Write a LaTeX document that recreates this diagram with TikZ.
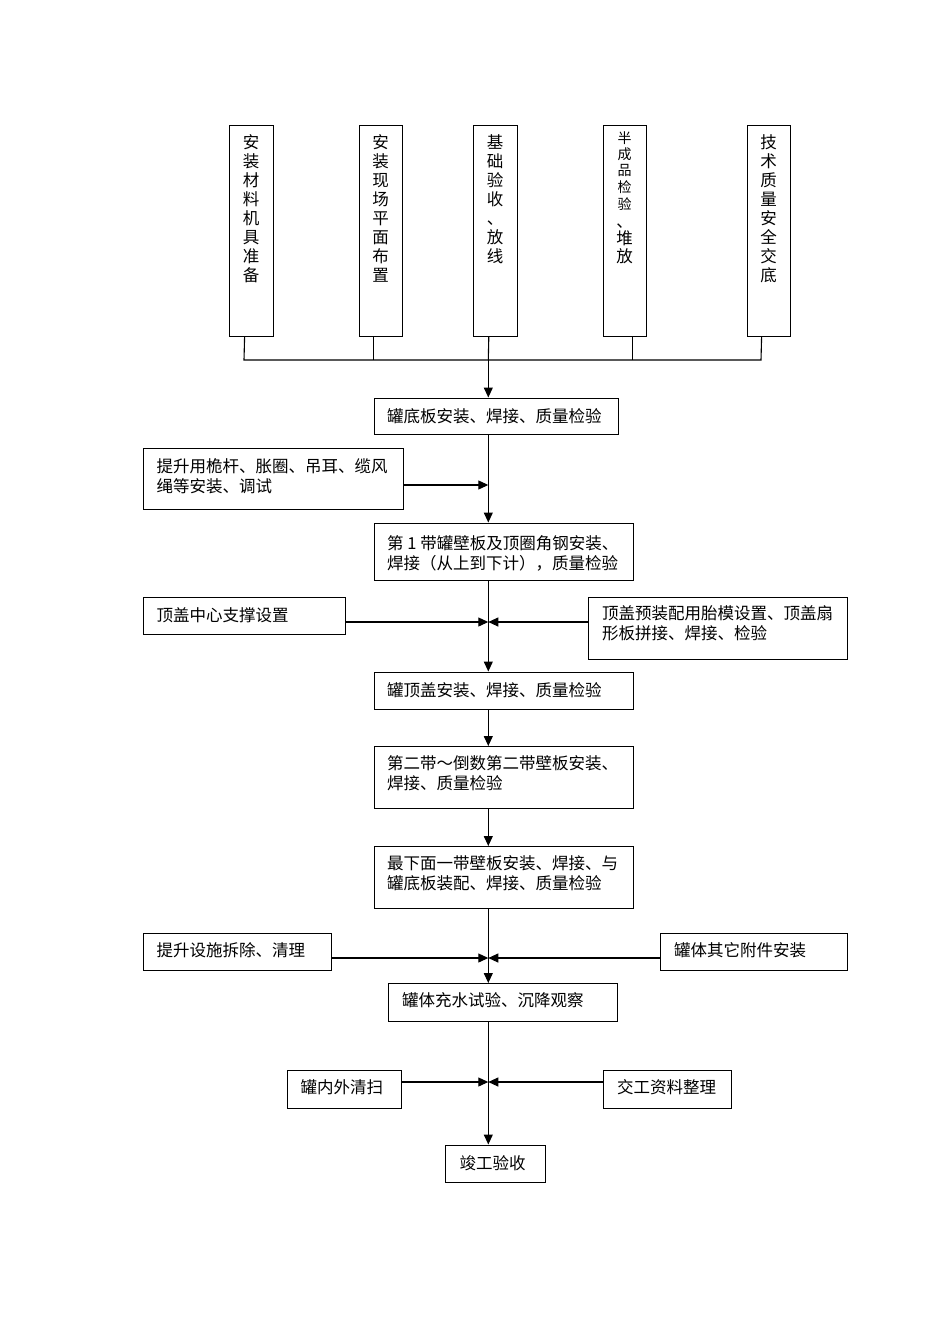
\documentclass[tikz,border=0pt]{standalone}
\usepackage{fontspec}
\setmainfont{Noto Sans CJK SC}
\usetikzlibrary{arrows.meta}
\begin{document}
\begin{tikzpicture}[x=1pt,y=-1pt,
  box/.style={draw, line width=1.1pt, inner sep=0pt, anchor=north west},
  txt/.style={inner sep=0pt, anchor=north west, align=left, font=\fontsize{16.5}{19.5}\selectfont},
  vtxt/.style={inner sep=0pt, anchor=north, align=center, font=\fontsize{16.5}{19}\selectfont},
  small/.style={font=\fontsize{14}{16}\selectfont},
  ln/.style={line width=1.1pt},
  arr/.style={line width=1.1pt, -{Triangle[length=10pt,width=9pt]}}]
\useasboundingbox (0,0) rectangle (950,1344);

% top vertical boxes
\node[box, minimum width=43.5pt, minimum height=211pt] (b1) at (229.3,124.5) {};
\node[box, minimum width=43.5pt, minimum height=211pt] (b2) at (358.7,124.5) {};
\node[box, minimum width=43.5pt, minimum height=211pt] (b3) at (473.3,124.5) {};
\node[box, minimum width=43.5pt, minimum height=211pt] (b4) at (602.7,124.5) {};
\node[box, minimum width=43.5pt, minimum height=211pt] (b5) at (746.7,124.5) {};

\node[vtxt] (t1) at (251,134.5) {安\\装\\材\\料\\机\\具\\准\\备};
\node[vtxt] (t2) at (380.5,134.5) {安\\装\\现\\场\\平\\面\\布\\置};
\node[vtxt] (t3) at (495,134.5) {基\\础\\验\\收\\、\\放\\线};
\node[vtxt] (t4) at (624.5,131.5) {{\fontsize{14}{16}\selectfont 半}\\[-3pt]{\fontsize{14}{16}\selectfont 成}\\[-3pt]{\fontsize{14}{16}\selectfont 品}\\[-2pt]{\fontsize{14}{16}\selectfont 检}\\[-2pt]{\fontsize{14}{16}\selectfont 验}\\[-1pt]、\\[-2pt]堆\\[-1pt]放};
\node[vtxt] (t5) at (768.5,134.5) {技\\术\\质\\量\\安\\全\\交\\底};

% bus
\coordinate (bus) at (488.3,360);
\coordinate (busL) at (244,360);
\coordinate (busR) at (761,360);
\draw[ln] ([xshift=-7pt]b1.south) -- (busL) -- (busR) -- ([xshift=-7.4pt]b5.south);
\draw[ln] ([xshift=-7.2pt]b2.south) -- ([xshift=-7.2pt]b2.south |- bus);
\draw[ln] ([xshift=-6.8pt]b3.south) -- (bus);
\draw[ln] ([xshift=7.2pt]b4.south) -- ([xshift=7.2pt]b4.south |- bus);

% main column boxes
\node[box, minimum width=244pt, minimum height=36.5pt] (A) at (373.5,397.5) {};
\node[txt] (At) at (387,408.5) {罐底板安装、焊接、质量检验};

\node[box, minimum width=260pt, minimum height=61.5pt] (B) at (143,447.5) {};
\node[txt] (Bt) at (156.5,458.5) {提升用桅杆、胀圈、吊耳、缆风\\绳等安装、调试};

\node[box, minimum width=259pt, minimum height=57.5pt] (C) at (373.5,522.5) {};
\node[txt] (Ct) at (387,535.5) {第 1 带罐壁板及顶圈角钢安装、\\焊接（从上到下计），质量检验};

\node[box, minimum width=202pt, minimum height=36.5pt] (D) at (143,597) {};
\node[txt] (Dt) at (156.5,607.5) {顶盖中心支撑设置};

\node[box, minimum width=259pt, minimum height=62pt] (E) at (588,597) {};
\node[txt] (Et) at (602,605.5) {顶盖预装配用胎模设置、顶盖扇\\形板拼接、焊接、检验};

\node[box, minimum width=259pt, minimum height=37pt] (F) at (373.5,671.5) {};
\node[txt] (Ft) at (387,682.5) {罐顶盖安装、焊接、质量检验};

\node[box, minimum width=259pt, minimum height=62pt] (G) at (373.5,746) {};
\node[txt] (Gt) at (387,755.5) {第二带～倒数第二带壁板安装、\\焊接、质量检验};

\node[box, minimum width=259pt, minimum height=62pt] (H) at (373.5,846) {};
\node[txt] (Ht) at (387,855.5) {最下面一带壁板安装、焊接、与\\罐底板装配、焊接、质量检验};

\node[box, minimum width=188pt, minimum height=37pt] (I) at (143,933) {};
\node[txt] (It) at (156.5,942.5) {提升设施拆除、清理};

\node[box, minimum width=187pt, minimum height=37pt] (J) at (660,933) {};
\node[txt] (Jt) at (674,942.5) {罐体其它附件安装};

\node[box, minimum width=229pt, minimum height=38pt] (K) at (388,983) {};
\node[txt] (Kt) at (402,992.5) {罐体充水试验、沉降观察};

\node[box, minimum width=114pt, minimum height=38pt] (L) at (287,1069.5) {};
\node[txt] (Lt) at (300.5,1079.5) {罐内外清扫};

\node[box, minimum width=128pt, minimum height=38pt] (M) at (603,1069.5) {};
\node[txt] (Mt) at (617,1079.5) {交工资料整理};

\node[box, minimum width=100pt, minimum height=37.5pt] (N) at (445,1144.5) {};
\node[txt] (Nt) at (459.5,1155) {竣工验收};

% junction points on the spine
\coordinate (j0) at (488.3,485);
\coordinate (j1) at (488.3,622);
\coordinate (j2) at (488.3,958);
\coordinate (j3) at (488.3,1082);

% spine arrows
\draw[arr] (bus) -- (bus |- A.north);
\draw[arr] (A.south -| bus) -- (C.north -| bus);
\draw[arr] (C.south -| bus) -- (F.north -| bus);
\draw[arr] (F.south -| bus) -- (G.north -| bus);
\draw[arr] (G.south -| bus) -- (H.north -| bus);
\draw[arr] (H.south -| bus) -- (K.north -| bus);
\draw[arr] (K.south -| bus) -- (N.north -| bus);

% side arrows
\draw[arr] (B.east |- j0) -- (j0);
\draw[arr] (D.east |- j1) -- (j1);
\draw[arr] (E.west |- j1) -- (j1);
\draw[arr] (I.east |- j2) -- (j2);
\draw[arr] (J.west |- j2) -- (j2);
\draw[arr] (L.east |- j3) -- (j3);
\draw[arr] (M.west |- j3) -- (j3);
\end{tikzpicture}
\end{document}
